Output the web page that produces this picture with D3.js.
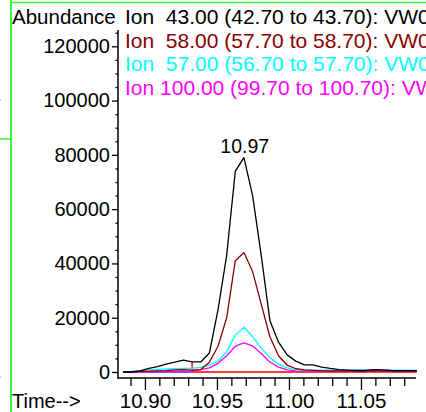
<!DOCTYPE html>
<html>
<head>
<meta charset="utf-8">
<script src="https://cdn.jsdelivr.net/npm/d3@7"></script>
<style>
  body { margin: 0; background: #fff; }
  svg { display: block; font-family: "Liberation Sans", Arial, sans-serif; }
</style>
</head>
<body>
<svg id="chart" width="426" height="412"></svg>
<script>
// retention times (min), one scan every 0.006 min
var times = d3.range(-14, 21).map(k => 10.96875 + k * 0.006);

// abundance per ion
var ion43 = [0, 0, 400, 1300, 2000, 2900, 3600, 4400, 3700, 3700, 7000, 23000, 43000, 74000, 79000,
  65000, 43000, 19000, 11000, 6300, 4000, 2600, 2600, 1800, 1300, 900, 700, 550, 550, 900, 800, 550, 500, 500, 400];
var ion58 = [0, 100, 200, 300, 400, 500, 800, 900, 700, 900, 3600, 9500, 20000, 41000, 44000,
  37000, 25000, 13000, 6000, 2500, 1200, 800, 600, 400, 400, 400, 400, 400, 400, 400, 400, 400, 400, 400, 400];
var ion57 = [0, 200, 500, 800, 1000, 1100, 1200, 1300, 1300, 1700, 2500, 4000, 7500, 13500, 16500,
  13000, 8800, 5300, 2900, 1500, 900, 700, 700, 700, 700, 700, 700, 700, 700, 700, 700, 700, 700, 650, 600];
var ion100 = [0, 0, 100, 100, 200, 200, 300, 300, 400, 900, 1500, 3200, 6000, 9500, 10700,
  9600, 6800, 3700, 1800, 800, 400, 300, 300, 300, 300, 300, 300, 300, 300, 300, 300, 300, 300, 300, 300];

var legendLines = [
  "Ion  43.00 (42.70 to 43.70): VW06.D\\DATA.MS",
  "Ion  58.00 (57.70 to 58.70): VW06.D\\DATA.MS",
  "Ion  57.00 (56.70 to 57.70): VW06.D\\DATA.MS",
  "Ion 100.00 (99.70 to 100.70): VW06.D\\DATA.MS"
];
var colors = ["#000000", "#8b0000", "#00ffff", "#ff00ff"];

var yTicks = [0, 20000, 40000, 60000, 80000, 100000, 120000];
var xTicks = [10.90, 10.95, 11.00, 11.05];
var peakTime = 10.97;
var peakValue = 79000;
var baseStart = 10.9328;  // integration start marker
var baseTop = 3700;

var svg = d3.select("#chart");

// green frame
svg.append("line").attr("x1", 11).attr("x2", 11).attr("y1", 0).attr("y2", 412)
  .attr("stroke", "#3cf03c").attr("stroke-width", 2);
svg.append("line").attr("x1", 11).attr("x2", 426).attr("y1", 2.5).attr("y2", 2.5)
  .attr("stroke", "#3cf03c").attr("stroke-width", 1.5);
svg.append("line").attr("x1", 0).attr("x2", 11).attr("y1", 139).attr("y2", 139)
  .attr("stroke", "#3cf03c").attr("stroke-width", 1.5);
svg.append("rect").attr("x", 0).attr("y", 99.5).attr("width", 1).attr("height", 1).attr("fill", "#999");
svg.append("rect").attr("x", 0).attr("y", 376.5).attr("width", 1).attr("height", 1).attr("fill", "#999");

var x = d3.scaleLinear().domain([10.8813, 11.0882]).range([118, 416]);
var y = d3.scaleLinear().domain([0, 126000]).range([372, 30]);

// y axis
var yMinor = d3.range(0, 125001, 5000).filter(v => v % 20000 != 0);
svg.append("g").attr("transform", "translate(118,0)")
  .call(d3.axisLeft(y).tickValues(yMinor).tickSize(2.5).tickFormat(""))
  .call(g => g.select(".domain").remove());
svg.append("g").attr("transform", "translate(118,0)")
  .call(d3.axisLeft(y).tickValues(yTicks).tickSize(6).tickPadding(2).tickFormat(d3.format("d")))
  .call(g => g.select(".domain").remove())
  .call(g => g.selectAll("text").attr("font-size", 20).attr("fill", "#000"));
svg.append("line").attr("x1", 118).attr("x2", 118).attr("y1", y.range()[1]).attr("y2", 378.5)
  .attr("stroke", "#000").attr("stroke-width", 1.5);

// x axis
var xMinor = d3.range(1089, 1109).map(v => v / 100).filter(v => Math.round(v * 100) % 5 != 0);
svg.append("g").attr("transform", "translate(0,378)")
  .call(d3.axisBottom(x).tickValues(xMinor).tickSize(8).tickFormat(""))
  .call(g => g.select(".domain").remove());
svg.append("g").attr("transform", "translate(0,378)")
  .call(d3.axisBottom(x).tickValues(xTicks).tickSize(12).tickFormat(d3.format(".2f")))
  .call(g => g.select(".domain").remove())
  .call(g => g.selectAll("text").attr("font-size", 20.5).attr("fill", "#000").attr("y", 15.5));
svg.selectAll(".tick line").attr("stroke-width", 1.3);
svg.append("line").attr("x1", 117.3).attr("x2", 416).attr("y1", 378).attr("y2", 378)
  .attr("stroke", "#000").attr("stroke-width", 1.5);

svg.append("text").attr("x", 12).attr("y", 23.5).attr("font-size", 20.5).text("Abundance");
svg.append("text").attr("x", 12).attr("y", 408).attr("font-size", 20).text("Time-->");

// baseline markers
var line = d3.line().x((d, i) => x(times[i])).y(d => y(d));
svg.append("path")
  .attr("d", d3.line()([[x(times[0]), y(0)], [x(baseStart), y(0)]]))
  .attr("stroke", "#a040e8").attr("stroke-width", 2).attr("fill", "none");
svg.append("path")
  .attr("d", d3.line()([[x(baseStart), y(baseTop)], [x(baseStart), y(0)], [x(times[times.length - 1]), y(0)]]))
  .attr("stroke", "#ff3c3c").attr("stroke-width", 1.8).attr("fill", "none");

// ion traces
var series = [ion43, ion58, ion57, ion100];
for (let i = series.length - 1; i >= 0; i--) {
  svg.append("path")
    .attr("d", line(series[i]))
    .attr("fill", "none")
    .attr("stroke", colors[i])
    .attr("stroke-width", 1.3)
    .attr("stroke-linejoin", "round");
}

svg.append("text").attr("x", x(peakTime) - 1).attr("y", y(peakValue) - 5)
  .attr("text-anchor", "middle").attr("font-size", 19.5).text(peakTime.toFixed(2));

// legend
for (let i = 0; i < legendLines.length; i++) {
  svg.append("text")
    .attr("x", 125)
    .attr("y", 24 + i * 23.5)
    .attr("font-size", 21)
    .attr("fill", colors[i])
    .style("white-space", "pre")
    .text(legendLines[i]);
}
</script>
</body>
</html>
